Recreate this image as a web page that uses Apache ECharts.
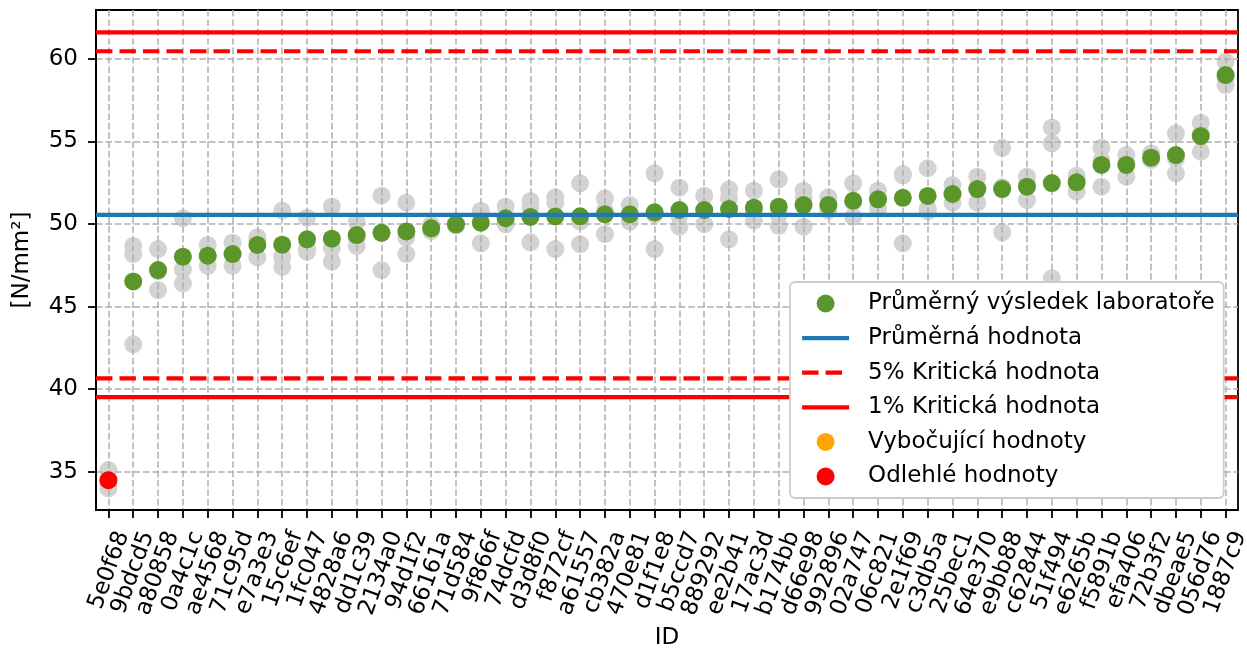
<!DOCTYPE html>
<html>
<head>
<meta charset="utf-8">
<script src="https://cdn.jsdelivr.net/npm/echarts@6/dist/echarts.min.js"></script>
<style>
  html, body { margin: 0; padding: 0; background: #ffffff; }
  #chart { width: 1247px; height: 651px; }
</style>
</head>
<body>
<div id="chart"></div>
<script>
// Laboratory IDs, ordered by their mean result
const ids = ['5e0f68','9bdcd5','a80858','0a4c1c','ae4568','71c95d','e7a3e3','15c6ef','1fc047','4828a6',
  'dd1c39','2134a0','94d1f2','66161a','71d584','9f866f','74dcfd','d3d8f0','f872cf','a61557',
  'cb382a','470e81','d1f1e8','b5ccd7','889292','ee2b41','17ac3d','b174bb','d66e98','992896',
  '02a747','06c821','2e1f69','c3db5a','25bec1','64e370','e9bb88','c62844','51f494','e6265b',
  'f5891b','efa406','72b3f2','dbeae5','056d76','1887c9'];

// Individual results of each laboratory (three replicates) [N/mm2]
const rep1 = [35.09,48.67,48.48,50.35,48.73,48.87,49.20,50.81,50.38,51.05,
  50.14,51.72,51.29,49.95,50.05,50.81,51.05,51.40,51.62,52.47,
  51.56,51.15,53.07,52.20,51.72,52.10,52.02,52.71,52.02,51.62,
  52.47,52.02,53.03,53.38,52.36,52.87,54.62,52.87,55.84,52.93,
  54.62,54.18,54.28,55.50,56.14,59.84];
const rep2 = [34.37,48.18,47.15,47.25,48.04,48.20,49.00,48.02,48.51,48.55,
  49.18,49.48,49.19,49.70,49.98,50.60,50.00,51.00,51.29,50.15,
  50.82,50.48,50.58,50.51,50.83,51.56,50.75,50.55,51.59,51.02,
  51.32,51.53,52.95,50.95,51.29,52.20,52.24,52.46,54.89,52.70,
  53.86,53.69,53.90,53.97,55.47,58.83];
const rep3 = [33.98,42.71,46.00,46.40,47.47,47.47,47.98,47.41,48.32,47.72,
  48.67,47.21,48.18,49.57,49.90,48.83,50.00,48.89,48.48,48.78,
  49.39,50.14,48.48,49.84,50.00,49.07,50.20,49.89,49.84,50.81,
  50.44,50.95,48.83,50.77,51.81,51.29,49.50,51.45,46.71,51.96,
  52.26,52.87,53.88,53.07,54.38,58.42];

// Mean result of each laboratory
const labMeans = [34.48,46.52,47.21,48.02,48.08,48.18,48.73,48.75,49.07,49.11,
  49.33,49.47,49.55,49.74,49.98,50.08,50.35,50.43,50.46,50.47,
  50.59,50.59,50.71,50.85,50.85,50.91,50.99,51.05,51.15,51.15,
  51.41,51.50,51.59,51.70,51.82,52.12,52.12,52.26,52.48,52.53,
  53.58,53.58,54.02,54.18,55.33,59.03];

// Laboratories flagged by the Cochran/Grubbs tests
const stragglerIds = [];
const outlierIds = ['5e0f68'];

// Overall mean and critical limits
const overallMean = 50.56;
const crit5 = [40.65, 60.47];
const crit1 = [39.51, 61.62];

// Y-axis range and labelled ticks
const yRange = [32.67, 62.97];
const yTicks = [35, 40, 45, 50, 55, 60];

const FONT = 'DejaVu Sans';
const FS = 23;
const LINE_W = 4.2;
const RED_DASH = [16.4, 7.1];

const greyPoints = [];
ids.forEach((id, i) => {
  [rep1, rep2, rep3].forEach(r => greyPoints.push([i, r[i]]));
});
const normalMeans = ids.map((id, i) =>
  (outlierIds.includes(id) || stragglerIds.includes(id)) ? [i, null] : [i, labMeans[i]]);
const stragglerMeans = ids.map((id, i) => stragglerIds.includes(id) ? [i, labMeans[i]] : null).filter(Boolean);
const outlierMeans = ids.map((id, i) => outlierIds.includes(id) ? [i, labMeans[i]] : null).filter(Boolean);

// Horizontal reference line spanning the whole plot width (hidden 0..1 x axis)
function hLine(name, value, color, type) {
  return {
    name: name, type: 'line', xAxisIndex: 1, yAxisIndex: 0,
    data: [[0, value], [1, value]],
    symbol: 'none', silent: true, z: 5,
    lineStyle: { color: color, width: LINE_W, type: type },
    itemStyle: { color: color }
  };
}

// Legend entry for a line: only the stroke, no marker
function lineLegend(name, color, type) {
  return {
    name: name,
    itemStyle: { color: 'rgba(0,0,0,0)', borderWidth: 0, opacity: 0 },
    lineStyle: { color: color, width: LINE_W, type: type }
  };
}

const chart = echarts.init(document.getElementById('chart'), null, { renderer: 'canvas' });
chart.setOption({
  backgroundColor: '#ffffff',
  animation: false,
  textStyle: { fontFamily: FONT },
  grid: {
    left: 96, right: 9, top: 10, bottom: 141,
    outerBoundsMode: 'none', containLabel: false,
    show: true, borderColor: '#000000', borderWidth: 1.8, backgroundColor: 'transparent'
  },
  legend: {
    orient: 'vertical',
    left: 790, top: 282,
    padding: [10, 9, 10, 10],
    itemGap: 11.6,
    itemWidth: 47, itemHeight: 18,
    backgroundColor: '#ffffff',
    borderColor: '#cccccc', borderWidth: 1.8, borderRadius: 5,
    z: 20,
    textStyle: { fontFamily: FONT, fontSize: FS, color: '#000000', lineHeight: 22, padding: [0, 0, 0, 14] },
    data: [
      { name: 'Průměrný výsledek laboratoře', icon: 'circle' },
      lineLegend('Průměrná hodnota', '#1f77b4', 'solid'),
      lineLegend('5% Kritická hodnota', '#ff0000', RED_DASH),
      lineLegend('1% Kritická hodnota', '#ff0000', 'solid'),
      { name: 'Vybočující hodnoty', icon: 'circle' },
      { name: 'Odlehlé hodnoty', icon: 'circle' }
    ]
  },
  xAxis: [{
    type: 'category',
    data: ids,
    boundaryGap: true,
    name: 'ID', nameLocation: 'middle', nameGap: 117,
    nameTextStyle: { fontFamily: FONT, fontSize: FS, color: '#000000' },
    axisLine: { show: true, lineStyle: { color: '#000000', width: 1.8 } },
    axisTick: { show: true, alignWithLabel: true, interval: 0, length: 8, lineStyle: { color: '#000000', width: 1.8 } },
    axisLabel: {
      interval: 0, rotate: 70, margin: 17, verticalAlign: 'top', padding: [4, 0, 0, 0],
      fontFamily: FONT, fontSize: FS, color: '#000000'
    },
    splitLine: { show: true, interval: 0, alignWithLabel: true, lineStyle: { color: '#b0b0b0', width: 1.5, type: [6.6, 2.8] } }
  }, {
    type: 'value', min: 0, max: 1, show: false,
    splitLine: { show: false }
  }],
  yAxis: {
    type: 'value',
    min: yRange[0], max: yRange[1],
    name: '[N/mm²]', nameLocation: 'middle', nameGap: 62,
    nameTextStyle: { fontFamily: FONT, fontSize: FS, color: '#000000' },
    axisLine: { show: true, lineStyle: { color: '#000000', width: 1.8 } },
    axisTick: { show: true, length: 8, customValues: yTicks, lineStyle: { color: '#000000', width: 1.8 } },
    axisLabel: { customValues: yTicks, margin: 18, fontFamily: FONT, fontSize: FS, color: '#000000' },
    splitLine: { show: true, lineStyle: { color: '#b0b0b0', width: 1.5, type: [6.6, 2.8] } }
  },
  series: [
    {
      name: 'Výsledky', type: 'scatter', data: greyPoints,
      symbolSize: 18, z: -1, silent: true,
      itemStyle: { color: '#d3d3d3', opacity: 1 }
    },
    {
      name: 'Průměrný výsledek laboratoře', type: 'scatter', data: normalMeans,
      symbolSize: 18, z: 3,
      itemStyle: { color: '#5a9629', opacity: 1 }
    },
    hLine('Průměrná hodnota', overallMean, '#1f77b4', 'solid'),
    hLine('5% Kritická hodnota', crit5[0], '#ff0000', RED_DASH),
    hLine('5% Kritická hodnota', crit5[1], '#ff0000', RED_DASH),
    hLine('1% Kritická hodnota', crit1[0], '#ff0000', 'solid'),
    hLine('1% Kritická hodnota', crit1[1], '#ff0000', 'solid'),
    {
      name: 'Vybočující hodnoty', type: 'scatter', data: stragglerMeans,
      symbolSize: 18, z: 3, itemStyle: { color: '#ffa500', opacity: 1 }
    },
    {
      name: 'Odlehlé hodnoty', type: 'scatter', data: outlierMeans,
      symbolSize: 18, z: 3, itemStyle: { color: '#ff0000', opacity: 1 }
    }
  ]
});
</script>
</body>
</html>
